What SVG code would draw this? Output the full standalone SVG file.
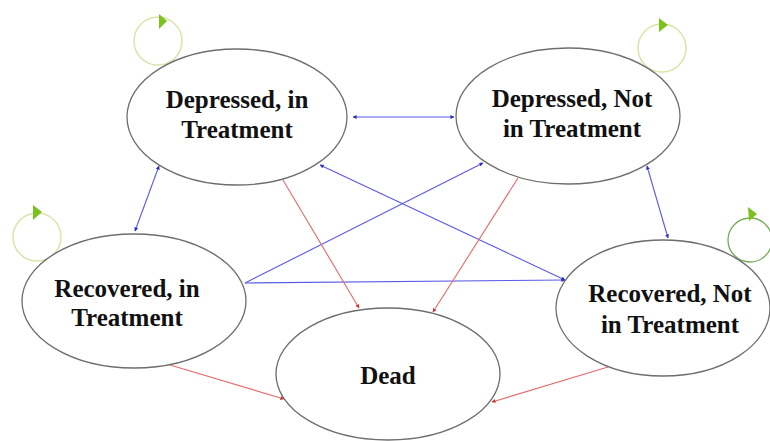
<svg xmlns="http://www.w3.org/2000/svg" width="770" height="441" viewBox="0 0 770 441">
<defs>
<style>
.node ellipse{fill:#ffffff;stroke:#6e6e6e;stroke-width:1.3}
.node text{font-family:"Liberation Serif","Times New Roman",serif;font-weight:bold;font-size:25px;fill:#111;text-anchor:middle}
.blue{stroke:#5a5ae6;stroke-width:1.1;fill:none}
.red{stroke:#e46a6a;stroke-width:1.1;fill:none}
.loop{fill:none;stroke:#dde3a8;stroke-width:1.5}
.loop2{fill:none;stroke:#74aa5a;stroke-width:1.3}
.tri{fill:#7cc21e}
</style>
<marker id="ab" viewBox="0 0 10 10" refX="9" refY="5" markerWidth="4" markerHeight="4" orient="auto-start-reverse" markerUnits="userSpaceOnUse"><path d="M0,0 L10,5 L0,10 z" fill="#3030c0"/></marker>
<marker id="ar" viewBox="0 0 10 10" refX="9" refY="5" markerWidth="4" markerHeight="4" orient="auto-start-reverse" markerUnits="userSpaceOnUse"><path d="M0,0 L10,5 L0,10 z" fill="#d03030"/></marker>
</defs>
<rect width="770" height="441" fill="#ffffff"/>
<g id="connectors">
<line class="blue" x1="353" y1="117" x2="454" y2="117" marker-start="url(#ab)" marker-end="url(#ab)"/>
<line class="blue" x1="159" y1="166" x2="135" y2="231" marker-start="url(#ab)" marker-end="url(#ab)"/>
<line class="blue" x1="320" y1="165" x2="565" y2="280" marker-start="url(#ab)" marker-end="url(#ab)"/>
<line class="blue" x1="245" y1="283" x2="483" y2="163" marker-end="url(#ab)"/>
<line class="blue" x1="245" y1="283" x2="565" y2="280" marker-end="url(#ab)"/>
<line class="blue" x1="647" y1="166" x2="668" y2="238" marker-start="url(#ab)" marker-end="url(#ab)"/>
<line class="red" x1="283" y1="180" x2="359" y2="308" marker-end="url(#ar)"/>
<line class="red" x1="518" y1="178" x2="433" y2="312" marker-end="url(#ar)"/>
<line class="red" x1="170" y1="365" x2="284" y2="399" marker-end="url(#ar)"/>
<line class="red" x1="608" y1="367" x2="492" y2="402" marker-end="url(#ar)"/>
<circle class="loop" cx="158" cy="41" r="24"/>
<polygon class="tri" points="159,14 167,21 159,29"/>
<circle class="loop" cx="662" cy="48" r="24"/>
<polygon class="tri" points="659,18 668,25 659,32"/>
<circle class="loop" cx="37" cy="237" r="24"/>
<polygon class="tri" points="33,205 42,212 33,220"/>
<circle class="loop2" cx="750" cy="240" r="22"/>
<polygon class="tri" points="748,207 757,214 749,221"/>
</g>
<g id="n-dep-in" class="node">
<ellipse cx="237" cy="117" rx="110" ry="68"/>
<text x="237" y="108">Depressed, in</text>
<text x="237" y="138">Treatment</text>
</g>
<g id="n-dep-not" class="node">
<ellipse cx="568" cy="116" rx="112" ry="68"/>
<text x="572" y="107">Depressed, Not</text>
<text x="572" y="137">in Treatment</text>
</g>
<g id="n-rec-in" class="node">
<ellipse cx="134" cy="301" rx="112" ry="67"/>
<text x="127" y="297">Recovered, in</text>
<text x="127" y="326">Treatment</text>
</g>
<g id="n-dead" class="node">
<ellipse cx="388" cy="374" rx="112" ry="66"/>
<text x="388" y="384">Dead</text>
</g>
<g id="n-rec-not" class="node">
<ellipse cx="663" cy="308" rx="107" ry="68"/>
<text x="670" y="302">Recovered, Not</text>
<text x="670" y="333">in Treatment</text>
</g>
</svg>
